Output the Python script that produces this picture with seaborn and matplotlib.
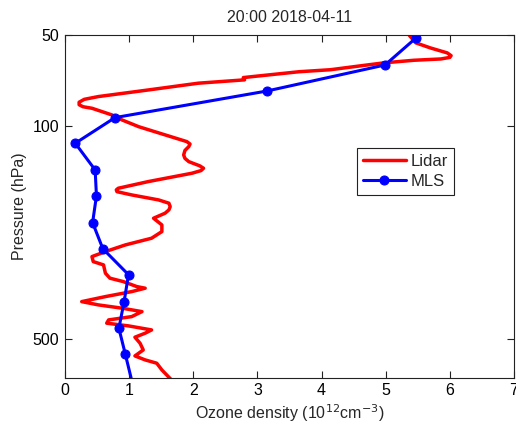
import matplotlib
matplotlib.use("Agg")
import matplotlib.pyplot as plt
from matplotlib.ticker import NullLocator, FixedLocator, FixedFormatter
import seaborn as sns
import pandas as pd

# Lidar ozone profile (density in 1e12 cm^-3, pressure in hPa)
lidar_ozone = [5.36, 5.47, 5.70, 5.96, 6.02, 6.00, 5.86, 5.44, 4.97, 4.56, 4.14,
               3.65, 2.92, 2.78, 2.80, 2.08, 1.30, 0.52, 0.30, 0.22, 0.22, 0.28,
               0.42, 0.73, 0.89, 1.15, 1.56, 1.90, 1.95, 1.93, 1.87, 1.85, 1.87,
               1.93, 2.10, 2.16, 2.12, 1.98, 1.30, 0.83, 0.80, 0.81, 1.04, 1.46,
               1.62, 1.64, 1.62, 1.56, 1.38, 1.51, 1.51, 1.35, 0.94, 0.63, 0.42,
               0.44, 0.60, 0.63, 0.70, 0.91, 1.12, 1.25, 1.04, 0.63, 0.26, 0.52,
               0.89, 1.20, 1.04, 0.68, 0.65, 0.99, 1.35, 1.25, 1.09, 1.17, 1.22,
               1.09, 1.25, 1.43, 1.51, 1.61, 1.68]
lidar_pressure = [50.0, 53.2, 55.3, 57.4, 58.6, 59.4, 60.1, 60.7, 61.9, 63.5, 65.2,
                  66.2, 68.7, 69.2, 70.4, 72.2, 76.0, 79.9, 81.6, 83.4, 85.0, 86.3,
                  87.3, 91.8, 95.4, 100.4, 106.8, 112.4, 114.5, 116.7, 120.2, 124.3, 127.6,
                  130.8, 135.0, 137.5, 140.0, 142.8, 152.1, 160.0, 162.0, 164.2, 168.3, 174.8,
                  179.2, 183.9, 188.5, 193.3, 200.8, 211.2, 222.2, 233.6, 245.8, 258.5, 268.5,
                  278.9, 285.9, 304.5, 316.2, 324.5, 337.0, 341.1, 350.0, 363.5, 377.6, 387.1,
                  396.9, 407.3, 423.0, 433.7, 444.6, 453.8, 467.9, 479.6, 494.4, 517.5, 544.5,
                  569.7, 587.2, 602.0, 633.4, 666.1, 690.0]

# MLS ozone profile on its retrieval levels
mls_ozone = [5.48, 4.99, 3.15, 0.78, 0.16, 0.47, 0.49, 0.43, 0.59, 0.99,
             0.92, 0.84, 0.94, 1.05]
mls_pressure = [51.1, 62.9, 76.6, 93.7, 113.8, 139.3, 169.6, 207.6, 253.0, 308.0,
                379.0, 462.0, 562.0, 700.0]

title = "20:00 2018-04-11"
x_ticks = [0, 1, 2, 3, 4, 5, 6, 7]
y_ticks = [50, 100, 500]
y_ticklabels = ["50", "100", "500"]

sns.set_theme(style="white")
plt.rcParams["font.family"] = ["Liberation Sans", "DejaVu Sans"]
plt.rcParams.update({
    "xtick.direction": "in", "ytick.direction": "in",
    "xtick.top": True, "ytick.right": True,
    "xtick.bottom": True, "ytick.left": True,
    "xtick.major.size": 5, "ytick.major.size": 5,
    "xtick.major.width": 0.8, "ytick.major.width": 0.8,
    "xtick.color": "#222222", "ytick.color": "#222222",
    "axes.edgecolor": "#222222", "axes.linewidth": 0.8,
    "lines.solid_joinstyle": "round", "lines.solid_capstyle": "round",
})

lidar = pd.DataFrame({"ozone": lidar_ozone, "pressure": lidar_pressure})
mls = pd.DataFrame({"ozone": mls_ozone, "pressure": mls_pressure})

fig = plt.figure(figsize=(5.16, 4.28), dpi=100)
ax = fig.add_axes([0.126, 0.117, 0.870, 0.802])

sns.lineplot(data=lidar, x="ozone", y="pressure", sort=False, estimator=None,
             color="#ff0000", linewidth=2.5, label="Lidar", ax=ax)
sns.lineplot(data=mls, x="ozone", y="pressure", sort=False, estimator=None,
             color="#0000ff", linewidth=2.2, marker="o", markersize=6.5,
             markeredgecolor="#0000ff", markerfacecolor="#0000ff",
             label="MLS", ax=ax)

ax.set_yscale("log")
ax.set_ylim(673, 50)
ax.set_xlim(0, 7)
ax.yaxis.set_major_locator(FixedLocator(y_ticks))
ax.yaxis.set_major_formatter(FixedFormatter(y_ticklabels))
ax.yaxis.set_minor_locator(NullLocator())
ax.set_xticks(x_ticks)
ax.tick_params(labelsize=11.5, colors="#222222", labelcolor="black", pad=4)

ax.set_title(title, fontsize=11.5, pad=9)
ax.set_xlabel("Ozone density (10$^{12}$cm$^{-3}$)", fontsize=11.5, labelpad=3)
ax.set_ylabel("Pressure (hPa)", fontsize=11.5, labelpad=4)

leg = ax.legend(loc="upper left", bbox_to_anchor=(0.65, 0.67), fontsize=12,
                frameon=True, fancybox=False, framealpha=1, edgecolor="#222222",
                handlelength=2.6, borderpad=0.35, labelspacing=0.3,
                handletextpad=0.3, borderaxespad=0)
leg.get_frame().set_linewidth(0.8)

fig.savefig("out.png", dpi=100)
